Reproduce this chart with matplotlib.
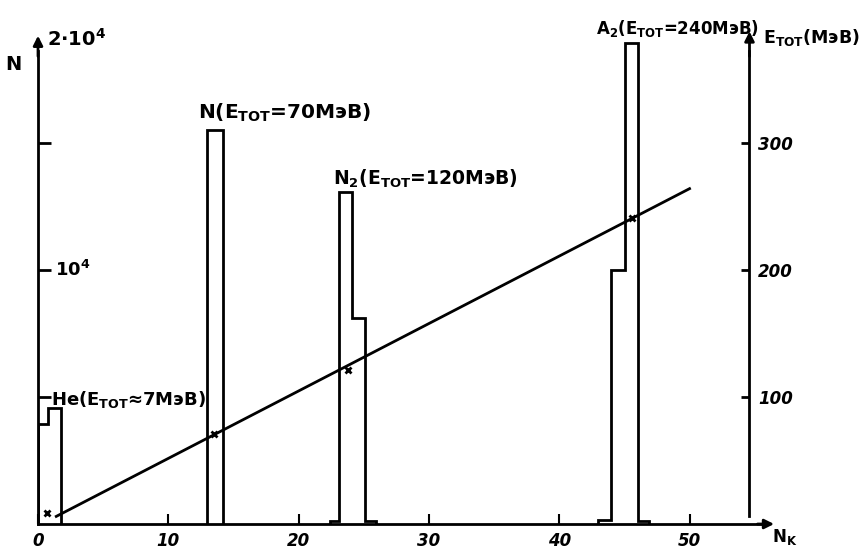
"""
Спектр N_k: гистограммы пиков He, N, N2, A2 и калибровка E_tot(N_k)
"""
import matplotlib
matplotlib.use("Agg")  # sem display
import matplotlib.pyplot as plt

plt.rcParams["font.family"] = ["DejaVu Sans"]
plt.rcParams["mathtext.fontset"] = "dejavusans"

# гистограммы: границы бинов и числа отсчетов
he_edges = [0.0, 0.8, 1.8]
he_counts = [3950, 4550]
n_edges = [13.0, 14.2]
n_counts = [15500]
n2_edges = [22.4, 23.1, 24.1, 25.1, 25.9]
n2_counts = [120, 13050, 8100, 120]
a2_edges = [43.0, 44.0, 45.05, 46.05, 46.9]
a2_counts = [150, 10000, 18950, 120]

# калибровка E_tot(N_k)
fit_nk = [1.4, 50.0]
fit_e = [6, 264]
calib_nk = [0.7, 13.5, 23.8, 45.6]
calib_e = [9, 71, 121, 241]

x_ticks = [0, 10, 20, 30, 40, 50]
n_ticks = [5000, 10000, 15000]
e_ticks = [100, 200, 300]

BOLD = dict(fontweight="bold", color="black")


def main():
    fig = plt.figure(figsize=(8.62, 5.52), dpi=100)
    ax = fig.add_axes([0.0441, 0.0507, 0.8541, 0.9113])
    ax.set_xlim(0, 56.5)
    ax.set_ylim(0, 19800)
    ax.patch.set_alpha(0)

    for s in ["top", "right"]:
        ax.spines[s].set_visible(False)
    for s in ["left", "bottom"]:
        ax.spines[s].set_linewidth(2)
    ax.spines["left"].set_bounds(0, 18600)
    ax.spines["bottom"].set_bounds(0, 55.5)

    # стрелки осей
    arrow = dict(arrowstyle="-|>", lw=2, color="black", mutation_scale=14)
    ax.annotate("", xy=(0, 19330), xytext=(0, 18300), arrowprops=arrow,
                annotation_clip=False)
    ax.annotate("", xy=(56.7, 0), xytext=(55.0, 0), arrowprops=arrow,
                annotation_clip=False)

    # гистограммы
    for counts, edges in [(he_counts, he_edges), (n_counts, n_edges),
                          (n2_counts, n2_edges), (a2_counts, a2_edges)]:
        ax.stairs(counts, edges, color="black", lw=2, baseline=0)

    ax.set_yticks(n_ticks)
    ax.tick_params(axis="y", direction="in", length=9, width=2, labelleft=False)
    ax.set_xticks(x_ticks)
    ax.set_xticklabels([str(v) for v in x_ticks])
    ax.tick_params(axis="x", direction="in", length=7, width=1.5, pad=6,
                   labelsize=12)
    for lbl in ax.get_xticklabels():
        lbl.set_fontweight("bold")
        lbl.set_fontstyle("italic")

    ax.text(-1.9, 18100, "N", ha="center", va="center", fontsize=14, **BOLD)
    ax.text(0.7, 19100, r"$\mathbf{2{\cdot}10^{4}}$", ha="left", va="center",
            fontsize=14)
    ax.text(1.3, 10000, r"$\mathbf{10^{4}}$", ha="left", va="center",
            fontsize=13)
    ax.text(57.3, -520, r"N$_{\mathbf{K}}$", ha="center", va="center",
            fontsize=12, **BOLD)

    # подписи пиков
    ax.text(1.0, 4900, r"He(E$_{\mathbf{TOT}}$≈7MэВ)", ha="left",
            va="center", fontsize=13, **BOLD)
    ax.text(12.3, 16200, r"N(E$_{\mathbf{TOT}}$=70MэВ)", ha="left",
            va="center", fontsize=14.5, **BOLD)
    ax.text(22.6, 13600, r"N$_{\mathbf{2}}$(E$_{\mathbf{TOT}}$=120MэВ)",
            ha="left", va="center", fontsize=13.5, **BOLD)
    ax.text(42.8, 19500, r"A$_{\mathbf{2}}$(E$_{\mathbf{TOT}}$=240MэВ)",
            ha="left", va="center", fontsize=12, **BOLD)

    # правая ось: E_tot
    ax2 = ax.twinx()
    ax2.set_ylim(0, 396)
    for s in ["top", "left", "bottom"]:
        ax2.spines[s].set_visible(False)
    ax2.spines["right"].set_position(("data", 54.6))
    ax2.spines["right"].set_linewidth(2)
    ax2.spines["right"].set_bounds(6, 372)
    ax2.annotate("", xy=(54.6, 390), xytext=(54.6, 366), arrowprops=arrow,
                 annotation_clip=False)
    ax2.set_yticks(e_ticks)
    ax2.set_yticklabels([str(v) for v in e_ticks])
    ax2.tick_params(axis="y", direction="in", length=6, width=2, pad=6,
                    labelsize=12)
    for lbl in ax2.get_yticklabels():
        lbl.set_fontweight("bold")
        lbl.set_fontstyle("italic")

    ax2.plot(fit_nk, fit_e, color="black", lw=2)
    ax2.plot(calib_nk, calib_e, "x", color="black", ms=5, mew=2)
    ax2.text(55.6, 383, r"E$_{\mathbf{TOT}}$(MэВ)", ha="left", va="center",
             fontsize=12.5, **BOLD)

    fig.savefig("out.png", dpi=100)
    plt.close(fig)


if __name__ == "__main__":
    main()
